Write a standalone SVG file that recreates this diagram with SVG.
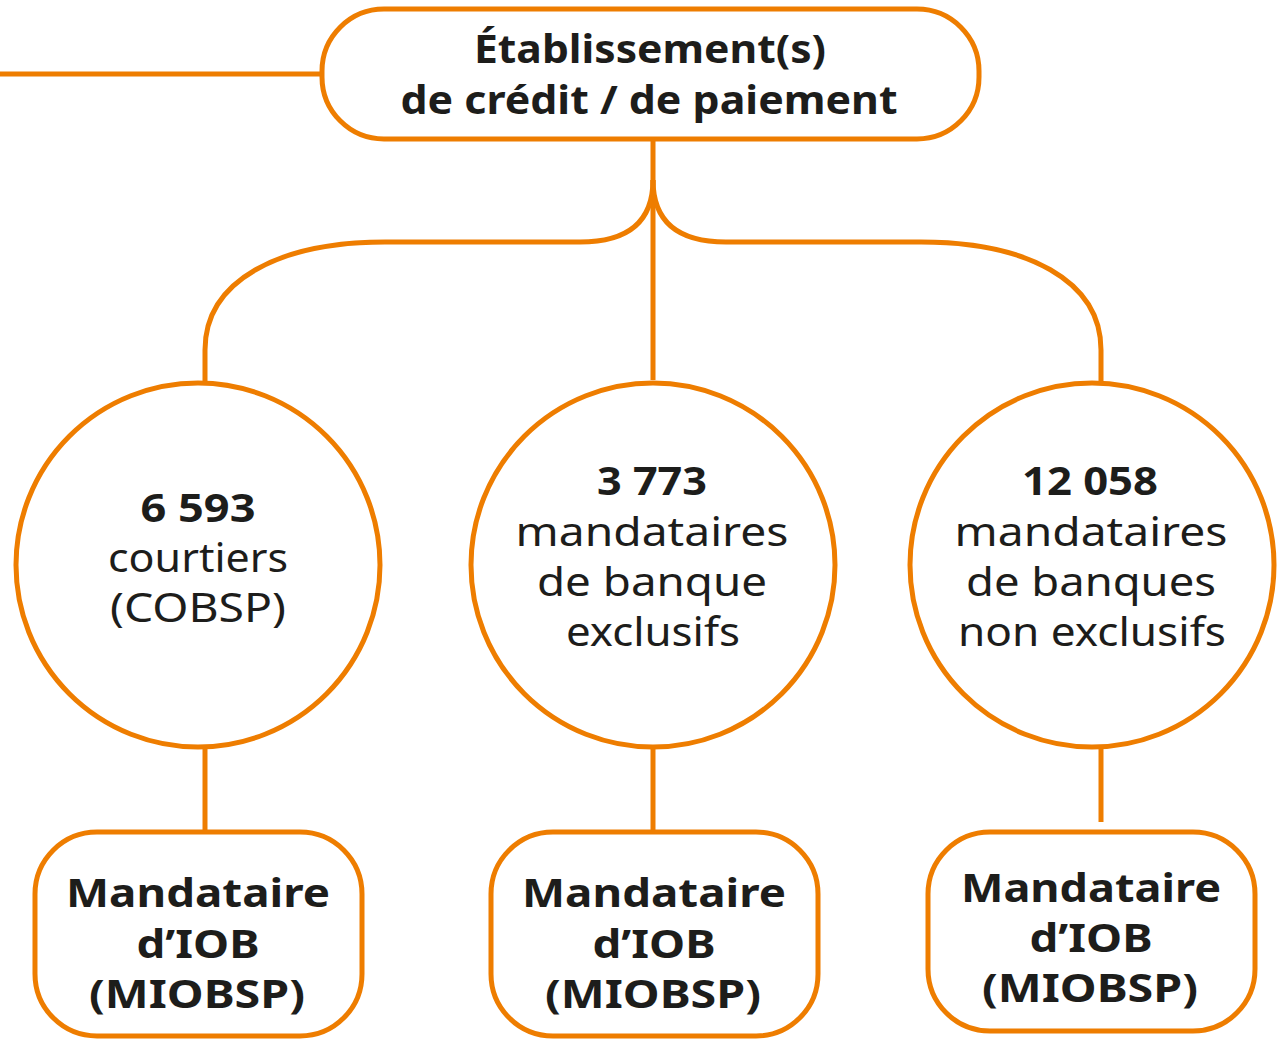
<svg xmlns="http://www.w3.org/2000/svg" width="1277" height="1039" viewBox="0 0 1277 1039">
<style>
.s{fill:#fff;stroke:#EE7D00;stroke-width:5}
.c{fill:none;stroke:#EE7D00;stroke-width:5}
.t{font-family:"Noto Sans","Liberation Sans",sans-serif;font-size:40px;fill:#1d1d1b;text-anchor:middle}
.b{font-weight:bold}
</style>
<rect width="1277" height="1039" fill="#fff"/>
<g id="connectors">
<path class="c" d="M0 74H322"/>
<path class="c" d="M653 140V380"/>
<path class="c" d="M653 180C653 220 630 242 580 242H385C280 242 205 280 205 350V382"/>
<path class="c" d="M653 180C653 220 676 242 726 242H921C1026 242 1101 280 1101 350V382"/>
<path class="c" d="M205 748V832"/>
<path class="c" d="M653 748V832"/>
<path class="c" d="M1101 748V822"/>
</g>
<g id="top">
<rect class="s" x="322" y="9" width="657" height="130" rx="62"/>
<text class="t b" x="650" y="63" textLength="352" lengthAdjust="spacingAndGlyphs">Établissement(s)</text>
<text class="t b" x="649" y="114" textLength="497" lengthAdjust="spacingAndGlyphs">de crédit / de paiement</text>
</g>
<g id="c1">
<circle class="s" cx="198" cy="565" r="182"/>
<text class="t b" x="198" y="522" textLength="115" lengthAdjust="spacingAndGlyphs">6 593</text>
<text class="t" x="198" y="572" textLength="180" lengthAdjust="spacingAndGlyphs">courtiers</text>
<text class="t" x="198" y="622" textLength="176" lengthAdjust="spacingAndGlyphs">(COBSP)</text>
</g>
<g id="c2">
<circle class="s" cx="653" cy="565" r="182"/>
<text class="t b" x="652" y="495" textLength="110" lengthAdjust="spacingAndGlyphs">3 773</text>
<text class="t" x="652" y="546" textLength="273" lengthAdjust="spacingAndGlyphs">mandataires</text>
<text class="t" x="652" y="596" textLength="230" lengthAdjust="spacingAndGlyphs">de banque</text>
<text class="t" x="653" y="646" textLength="174" lengthAdjust="spacingAndGlyphs">exclusifs</text>
</g>
<g id="c3">
<circle class="s" cx="1092" cy="565" r="182"/>
<text class="t b" x="1090" y="495" textLength="136" lengthAdjust="spacingAndGlyphs">12 058</text>
<text class="t" x="1091" y="546" textLength="273" lengthAdjust="spacingAndGlyphs">mandataires</text>
<text class="t" x="1091" y="596" textLength="250" lengthAdjust="spacingAndGlyphs">de banques</text>
<text class="t" x="1092" y="646" textLength="268" lengthAdjust="spacingAndGlyphs">non exclusifs</text>
</g>
<g id="b1">
<rect class="s" x="35" y="832" width="327" height="204" rx="62"/>
<text class="t b" x="198" y="907" textLength="264" lengthAdjust="spacingAndGlyphs">Mandataire</text>
<text class="t b" x="198" y="958" textLength="123" lengthAdjust="spacingAndGlyphs">d’IOB</text>
<text class="t b" x="197" y="1008" textLength="216" lengthAdjust="spacingAndGlyphs">(MIOBSP)</text>
</g>
<g id="b2">
<rect class="s" x="491" y="832" width="327" height="204" rx="62"/>
<text class="t b" x="654" y="907" textLength="264" lengthAdjust="spacingAndGlyphs">Mandataire</text>
<text class="t b" x="654" y="958" textLength="123" lengthAdjust="spacingAndGlyphs">d’IOB</text>
<text class="t b" x="653" y="1008" textLength="216" lengthAdjust="spacingAndGlyphs">(MIOBSP)</text>
</g>
<g id="b3">
<rect class="s" x="928" y="832" width="327" height="199" rx="62"/>
<text class="t b" x="1091" y="902" textLength="260" lengthAdjust="spacingAndGlyphs">Mandataire</text>
<text class="t b" x="1091" y="952" textLength="123" lengthAdjust="spacingAndGlyphs">d’IOB</text>
<text class="t b" x="1090" y="1002" textLength="216" lengthAdjust="spacingAndGlyphs">(MIOBSP)</text>
</g>
</svg>
